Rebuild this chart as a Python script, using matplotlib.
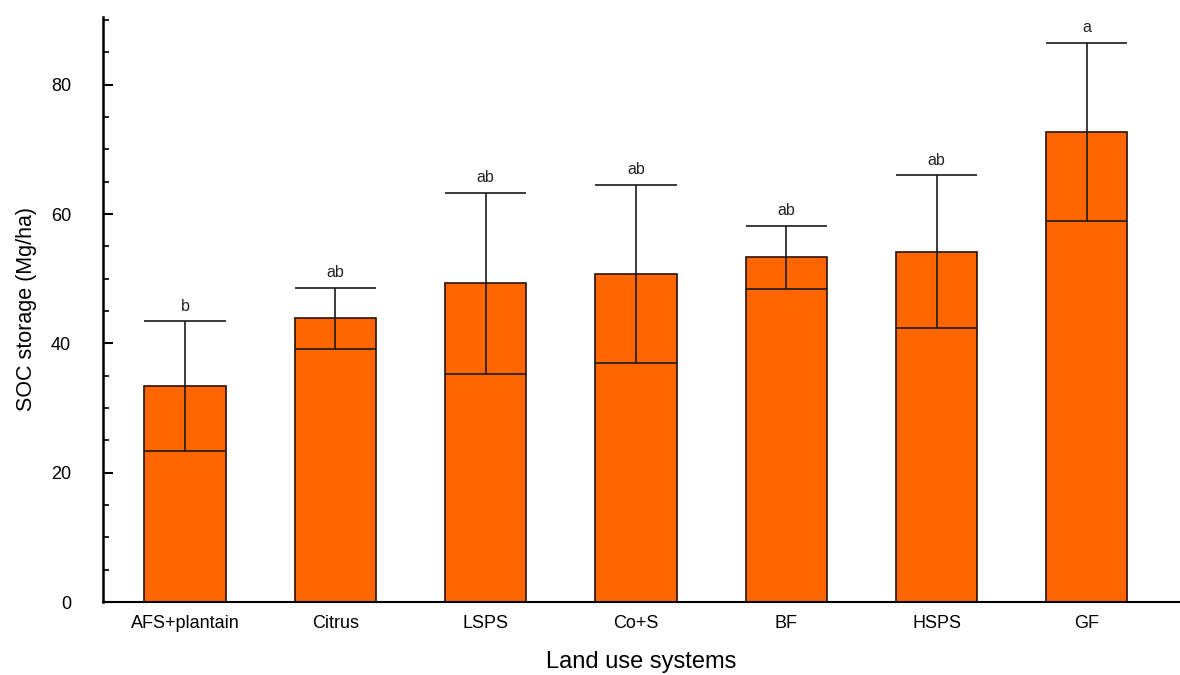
import matplotlib.pyplot as plt
from matplotlib.ticker import MultipleLocator

plt.rcParams['font.family'] = ['Liberation Sans', 'DejaVu Sans']

systems = ['AFS+plantain', 'Citrus', 'LSPS', 'Co+S', 'BF', 'HSPS', 'GF']
soc_mean = [33.4, 43.9, 49.3, 50.7, 53.3, 54.2, 72.7]
soc_err = [10.0, 4.7, 14.0, 13.8, 4.9, 11.8, 13.8]
letters = ['b', 'ab', 'ab', 'ab', 'ab', 'ab', 'a']

fig = plt.figure(figsize=(11.8, 6.75), dpi=100)
ax = fig.add_axes([0.0873, 0.108, 0.9127, 0.867])

x = list(range(len(systems)))
w = 0.54
ax.bar(x, soc_mean, width=w, color='#ff6600', edgecolor='#2a1208', linewidth=1.2, zorder=2)

lo = [m - e for m, e in zip(soc_mean, soc_err)]
hi = [m + e for m, e in zip(soc_mean, soc_err)]
left = [i - w / 2 for i in x]
right = [i + w / 2 for i in x]
ax.vlines(x, lo, hi, color='#1a1a1a', linewidth=1.2, zorder=3)
ax.hlines(hi, left, right, color='#1a1a1a', linewidth=1.2, zorder=3)
ax.hlines(lo, left, right, color='#1a1a1a', linewidth=1.2, zorder=3)

for i, lab in enumerate(letters):
    ax.text(x[i], hi[i] + 1.2, lab, ha='center', va='bottom', fontsize=11.5, color='#222222')

ax.set_xlim(-0.546, 6.62)
ax.set_ylim(0, 90.5)
ax.set_xticks(x)
ax.set_xticklabels(systems, fontsize=13)
ax.tick_params(axis='x', length=0, pad=9)
ax.yaxis.set_major_locator(MultipleLocator(20))
ax.yaxis.set_minor_locator(MultipleLocator(5))
ax.tick_params(axis='y', which='major', direction='in', length=7, width=1.5, labelsize=13, pad=23)
ax.tick_params(axis='y', which='minor', direction='in', length=4, width=1.2)

for s in ['top', 'right']:
    ax.spines[s].set_visible(False)
ax.spines['left'].set_linewidth(1.8)
ax.spines['bottom'].set_linewidth(1.5)

ax.set_ylabel('SOC storage (Mg/ha)', fontsize=15.5, labelpad=10)
ax.set_xlabel('Land use systems', fontsize=17, labelpad=14)

fig.savefig('out.png', dpi=100)
